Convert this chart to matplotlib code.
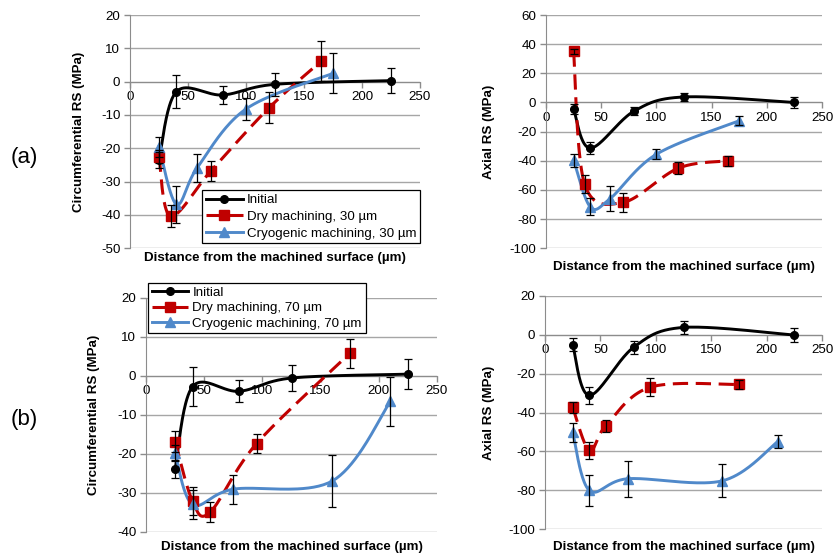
import numpy as np
import matplotlib
matplotlib.use('Agg')
import matplotlib.pyplot as plt
from matplotlib.lines import Line2D

plt.rcParams['font.family'] = ['Liberation Sans', 'DejaVu Sans']
plt.rcParams['axes.unicode_minus'] = False

# ---- data ----
init_x = [25, 40, 80, 125, 225]

# (a) 30 um, circumferential
a_circ_init = [-23.5, -3, -4, -0.8, 0.3]
a_circ_init_err = [2.5, 5, 2.8, 3.5, 3.8]
a_dry_x = [25, 35, 70, 120, 165]
a_circ_dry = [-22.5, -40.3, -26.7, -7.8, 6.2]
a_circ_dry_err = [2, 3.2, 3, 4.7, 6]
a_cryo_x = [25, 40, 58, 100, 175]
a_circ_cryo = [-19.5, -36.8, -25.8, -8.2, 2.5]
a_circ_cryo_err = [3, 5.5, 4.2, 3.4, 6]

# (a) 30 um, axial
a_ax_init = [-4.5, -31.3, -5.8, 3.8, 0]
a_ax_init_err = [3.5, 4.3, 3, 3, 3.5]
a_ax_dry = [35, -56, -68.5, -45, -40]
a_ax_dry_err = [2, 6, 6.5, 4.3, 3.5]
a_ax_cryo = [-39.5, -71.5, -66, -35.5, -12.5]
a_ax_cryo_err = [4.5, 6, 8.5, 3.5, 3]

# (b) 70 um, circumferential
b_dry_x = [25, 40, 55, 95, 175]
b_cryo_x = [25, 40, 75, 160, 210]
b_circ_init = [-24, -2.8, -4, -0.6, 0.4]
b_circ_init_err = [2.3, 5, 2.8, 3.3, 3.9]
b_circ_dry = [-16.9, -32.2, -35, -17.4, 5.7]
b_circ_dry_err = [2.6, 3.6, 2.6, 2.4, 3.8]
b_circ_cryo = [-19.8, -33, -29.1, -27, -6.6]
b_circ_cryo_err = [2, 3.8, 3.7, 6.6, 6.2]

# (b) 70 um, axial
b_ax_init = [-5.1, -31.2, -6.5, 3.7, -0.2]
b_ax_init_err = [3.5, 4.5, 3.3, 3.2, 3.5]
b_ax_dry = [-37.3, -59.5, -46.7, -27, -25.6]
b_ax_dry_err = [2.8, 4.2, 3.1, 4.6, 2.5]
b_ax_cryo = [-50.2, -80, -74, -75.1, -55]
b_ax_cryo_err = [5, 7.8, 9.2, 8.5, 3.2]

BLACK = '#000000'
RED = '#C00000'
BLUE = '#5089CA'
FS = 9.6


def smooth(x, y, n=40):
    # Excel-like smoothed line: Catmull-Rom converted to cubic Bezier
    p = np.column_stack([x, y]).astype(float)
    pts = np.vstack([p[0], p, p[-1]])
    t = np.linspace(0, 1, n)[:, None]
    out = []
    for i in range(1, len(pts) - 2):
        p0, p1, p2, p3 = pts[i - 1], pts[i], pts[i + 1], pts[i + 2]
        c1 = p1 + (p2 - p0) / 6
        c2 = p2 - (p3 - p1) / 6
        seg = ((1 - t) ** 3) * p1 + 3 * ((1 - t) ** 2) * t * c1 + 3 * (1 - t) * t ** 2 * c2 + t ** 3 * p2
        out.append(seg)
    out = np.vstack(out)
    return out[:, 0], out[:, 1]


def series(ax, x, y, err, color, ls, marker, ms):
    sx, sy = smooth(x, y)
    if ls == 'dash':
        ax.plot(sx, sy, color=color, lw=2.2, dashes=(5, 2.5), zorder=3)
    else:
        ax.plot(sx, sy, color=color, lw=2.1, zorder=3)
    ax.plot(x, y, ls='none', marker=marker, ms=ms, color=color, mec=color, zorder=4)
    ax.errorbar(x, y, yerr=err, fmt='none', ecolor='black', elinewidth=0.9,
                capsize=3, capthick=0.9, zorder=5)


def style(ax, ylim, ystep, ylabel, ylab_x, xlab_y):
    ax.set_xlim(0, 250)
    ax.set_ylim(*ylim)
    ax.set_xticks(np.arange(0, 251, 50))
    ax.set_yticks(np.arange(ylim[0], ylim[1] + 1, ystep))
    ax.grid(axis='y', color='#A6A6A6', lw=1)
    ax.set_axisbelow(True)
    for s in ['top', 'right']:
        ax.spines[s].set_visible(False)
    ax.spines['bottom'].set_position(('data', 0))
    ax.spines['bottom'].set_color('#8C8C8C')
    ax.spines['left'].set_color('#8C8C8C')
    ax.tick_params(axis='both', colors='#8C8C8C', labelcolor='black',
                   labelsize=FS, length=4, width=1, direction='out')
    ax.tick_params(axis='x', pad=3)
    ax.tick_params(axis='y', pad=3)
    ax.set_ylabel(ylabel, fontsize=FS, fontweight='bold')
    ax.yaxis.set_label_coords(ylab_x, 0.5)
    ax.set_xlabel('Distance from the machined surface (µm)', fontsize=FS, fontweight='bold')
    ax.xaxis.set_label_coords(0.5, xlab_y)
    ax.xaxis.label.set_va('center')


def handles(depth):
    return [
        Line2D([], [], color=BLACK, lw=2.1, marker='o', ms=5.5, label='Initial'),
        Line2D([], [], color=RED, lw=2.2, dashes=(5, 2.5), marker='s', ms=6.5,
               label='Dry machining, %s µm' % depth),
        Line2D([], [], color=BLUE, lw=2.1, marker='^', ms=7,
               label='Cryogenic machining, %s µm' % depth),
    ]


def legend(ax, depth, loc, anchor, spacing):
    leg = ax.legend(handles=handles(depth), loc=loc, bbox_to_anchor=anchor,
                    fontsize=FS, frameon=True, fancybox=False, edgecolor='black',
                    handlelength=2.75, handletextpad=0.3, labelspacing=spacing,
                    borderpad=0.28, borderaxespad=0, numpoints=1, framealpha=1)
    leg.get_frame().set_linewidth(0.9)


fig = plt.figure(figsize=(8.36, 5.56), dpi=100)
W, H = 836, 556


def axes_px(x0, x1, y0, y1):
    return fig.add_axes([x0 / W, 1 - y1 / H, (x1 - x0) / W, (y1 - y0) / H])


ax1 = axes_px(130, 420, 15, 248.3)
ax2 = axes_px(546, 822, 15, 248.3)
ax3 = axes_px(146, 437, 297.7, 531.7)
ax4 = axes_px(545, 822, 295.7, 529.3)

# (a) circumferential
series(ax1, init_x, a_circ_init, a_circ_init_err, BLACK, 'solid', 'o', 5.5)
series(ax1, a_dry_x, a_circ_dry, a_circ_dry_err, RED, 'dash', 's', 6.5)
series(ax1, a_cryo_x, a_circ_cryo, a_circ_cryo_err, BLUE, 'solid', '^', 7)
style(ax1, (-50, 20), 10, 'Circumferential RS (MPa)', -0.155, -0.04)
legend(ax1, 30, 'lower right', (1.0, 0.021), 0.32)

# (a) axial
series(ax2, init_x, a_ax_init, a_ax_init_err, BLACK, 'solid', 'o', 5.5)
series(ax2, a_dry_x, a_ax_dry, a_ax_dry_err, RED, 'dash', 's', 6.5)
series(ax2, a_cryo_x, a_ax_cryo, a_ax_cryo_err, BLUE, 'solid', '^', 7)
style(ax2, (-100, 60), 20, 'Axial RS (MPa)', -0.185, -0.079)

# (b) circumferential
series(ax3, init_x, b_circ_init, b_circ_init_err, BLACK, 'solid', 'o', 5.5)
series(ax3, b_dry_x, b_circ_dry, b_circ_dry_err, RED, 'dash', 's', 6.5)
series(ax3, b_cryo_x, b_circ_cryo, b_circ_cryo_err, BLUE, 'solid', '^', 7)
style(ax3, (-40, 20), 10, 'Circumferential RS (MPa)', -0.158, -0.064)
legend(ax3, 70, 'upper left', (0.007, 1.063), 0.22)

# (b) axial
series(ax4, init_x, b_ax_init, b_ax_init_err, BLACK, 'solid', 'o', 5.5)
series(ax4, b_dry_x, b_ax_dry, b_ax_dry_err, RED, 'dash', 's', 6.5)
series(ax4, b_cryo_x, b_ax_cryo, b_ax_cryo_err, BLUE, 'solid', '^', 7)
style(ax4, (-100, 20), 20, 'Axial RS (MPa)', -0.18, -0.074)

fig.text(24 / W, 1 - 158 / H, '(a)', fontsize=16, ha='center', va='center')
fig.text(24 / W, 1 - 420 / H, '(b)', fontsize=16, ha='center', va='center')

fig.savefig('out.png', dpi=100)
